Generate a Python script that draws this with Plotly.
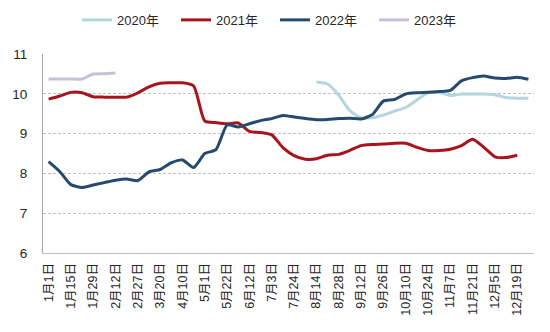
import plotly.graph_objects as go

categories = [
    "1月1日", "1月8日", "1月15日", "1月22日", "1月29日", "2月5日", "2月12日", "2月20日",
    "2月27日", "3月9日", "3月20日", "3月31日", "4月10日", "4月20日", "5月1日", "5月11日",
    "5月22日", "6月1日", "6月12日", "6月22日", "7月3日", "7月13日", "7月24日", "8月4日",
    "8月14日", "8月21日", "8月28日", "9月5日", "9月12日", "9月19日", "9月26日", "10月3日",
    "10月10日", "10月17日", "10月24日", "10月31日", "11月7日", "11月14日", "11月21日", "11月28日",
    "12月5日", "12月12日", "12月19日", "12月26日",
]
tick_labels = categories[::2]

N = None
s2020 = [N] * 24 + [10.30, 10.25, 9.97, 9.58, 9.40, 9.40, 9.47, 9.57, 9.66, 9.85,
                    10.03, 10.04, 9.96, 10.00, 10.00, 10.00, 9.98, 9.91, 9.89, 9.89]
s2021 = [9.87, 9.95, 10.04, 10.03, 9.93, 9.92, 9.92, 9.92, 10.03, 10.18,
         10.27, 10.28, 10.28, 10.20, 9.32, 9.28, 9.25, 9.27, 9.06, 9.03,
         8.97, 8.65, 8.45, 8.36, 8.37, 8.46, 8.48, 8.58, 8.70, 8.73,
         8.74, 8.76, 8.76, 8.66, 8.58, 8.58, 8.61, 8.70, 8.86, 8.66,
         8.42, 8.40, 8.46, N]
s2022 = [8.30, 8.05, 7.72, 7.65, 7.71, 7.77, 7.83, 7.86, 7.82, 8.04,
         8.10, 8.27, 8.34, 8.15, 8.50, 8.60, 9.22, 9.17, 9.25, 9.33,
         9.38, 9.46, 9.42, 9.38, 9.35, 9.36, 9.38, 9.39, 9.37, 9.48,
         9.82, 9.86, 10.00, 10.03, 10.04, 10.06, 10.09, 10.33, 10.41, 10.45,
         10.40, 10.39, 10.42, 10.37]
s2023 = [10.375, 10.375, 10.375, 10.375, 10.50, 10.51, 10.53] + [N] * 37

series = [
    ("2020年", s2020, "#b3d6df"),
    ("2021年", s2021, "#a8141b"),
    ("2022年", s2022, "#244a6e"),
    ("2023年", s2023, "#c8c0d8"),
]

fig = go.Figure()
for name, vals, color in series:
    fig.add_trace(go.Scatter(
        x=categories, y=vals, name=name, mode="lines",
        line=dict(color=color, width=3, shape="spline", smoothing=0.6),
        connectgaps=False,
    ))

font_family = "Liberation Sans, Noto Sans CJK SC, sans-serif"
fig.update_layout(
    width=550, height=332,
    margin=dict(l=41, r=16, t=53, b=79),
    paper_bgcolor="white", plot_bgcolor="white",
    font=dict(family=font_family, size=13, color="#262626"),
    showlegend=True,
    legend=dict(
        orientation="h", x=0.5, xanchor="center", xref="container",
        y=0.94, yanchor="middle", yref="container",
        font=dict(size=13, color="#262626"),
        itemwidth=30, entrywidth=54, traceorder="normal",
    ),
    xaxis=dict(
        type="category", categoryorder="array", categoryarray=categories,
        range=[-0.5, len(categories) - 0.5],
        tickmode="array", tickvals=tick_labels, ticktext=tick_labels,
        tickangle=-90, tickfont=dict(size=12.5, color="#262626"),
        showgrid=False, showline=True, linecolor="#bfbfbf", linewidth=1,
        ticks="", ticklabelstandoff=4, zeroline=False,
    ),
    yaxis=dict(
        range=[6, 11], tickmode="array", tickvals=[6, 7, 8, 9, 10, 11],
        ticktext=["6", "7", "8", "9", "10", "11"],
        tickfont=dict(size=13.5, color="#262626"),
        showgrid=True, gridcolor="#bfbfbf", gridwidth=1, griddash="3px,2px",
        showline=True, linecolor="#a6a6a6", linewidth=1,
        ticks="", ticklabelstandoff=12, zeroline=False,
    ),
)

fig.write_html("out.html")
